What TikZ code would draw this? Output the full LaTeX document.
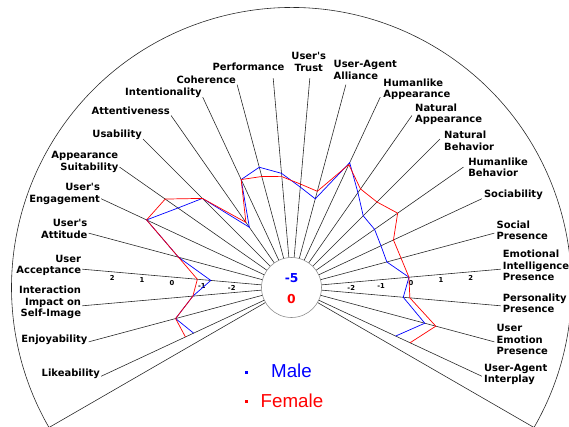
\documentclass[tikz,border=0pt]{standalone}
\usepackage{fontspec}
\newfontfamily\lblfont{DejaVu Sans}
\newfontfamily\keyfont{Liberation Sans}
\usetikzlibrary{calc}

\begin{document}
\begin{tikzpicture}[x=0.03cm,y=0.03cm,
  spoke/.style={line width=0.5pt,draw=black!85},
  lbl/.style={font=\lblfont\bfseries\fontsize{8.5}{9.8}\selectfont,inner sep=0pt},
  scalenum/.style={font=\lblfont\bfseries\fontsize{5.8}{6}\selectfont,inner sep=0pt},
  series/.style={line width=0.6pt,line join=miter}]
\colorlet{male}{blue} \colorlet{female}{red}
\useasboundingbox (-291.5,-139.5) rectangle (277.5,287.5);
\node [circle,draw=black!45,line width=0.5pt,minimum size=1.8cm,inner sep=0pt] (hub) at (0,0) {};
\node [font=\lblfont\bfseries\fontsize{10.5}{12}\selectfont,text=male] (hubmale) at (0.2,9.2) {-5};
\node [font=\lblfont\bfseries\fontsize{10.5}{12}\selectfont,text=female] (hubfemale) at (0,-11.5) {0};
\coordinate (bl) at (210:280);
\coordinate (br) at (-30:280);
\draw [spoke] (hub) -- (bl);
\draw [spoke] (hub) -- (br);
\draw [spoke] (br) arc [start angle=-30,end angle=210,radius=280];
% axes and their labels
\foreach \ang/\anc/\al/\dx/\dy/\txt [count=\i from 0] in {
  205/east/right/-1/2/Likeability,
  195/east/right/-1/2.5/Enjoyability,
  185/east/right/-1/3.3/{Interaction\\Impact on\\Self-Image},
  175/east/right/-1/3.7/{User\\Acceptance},
  165/east/right/-1/4/{User\textquotesingle s\\Attitude},
  155/east/right/-1/4.7/{User\textquotesingle s\\Engagement},
  145/east/right/-1/5/{Appearance\\Suitability},
  135/east/right/-1/4.5/Usability,
  125/east/right/-1/5/Attentiveness,
  115/east/right/-1/4.7/Intentionality,
  105/east/right/-1/5/Coherence,
  95/south/center/-24.7/7/Performance,
  85/south/center/-1/6.8/{User\textquotesingle s\\Trust},
  75/south west/left/-12.4/5/{User-Agent\\Alliance},
  65/west/left/3/8/{Humanlike\\Appearance},
  55/west/left/3/1/{Natural\\Appearance},
  45/west/left/4/-2/{Natural\\Behavior},
  35/west/left/4.5/0/{Humanlike\\Behavior},
  25/west/left/2/4/Sociability,
  15/west/left/2/3/{Social\\Presence},
  5/west/left/2/3.7/{Emotional\\Intelligence\\Presence},
  -5/west/left/2/2.3/{Personality\\Presence},
  -15/west/left/2/2.4/{User\\Emotion\\Presence},
  -25/west/left/2/1.7/{User-Agent\\Interplay}} {
  \coordinate (s\i) at (\ang:210);
  \draw [spoke] (hub) -- (s\i);
  \node [lbl,anchor=\anc,align=\al,shift={(\dx,\dy)}] (lab\i) at (s\i) {\txt};
}
% scale numbers
\foreach \v in {-2,...,2} {
  \node [scalenum,shift={(0,-6)}] (lt\v) at (175:{120+30*\v}) {\v};
  \node [scalenum,shift={(0,-6)}] (rt\v) at (5:{120+30*\v}) {\v};
}
% data
\foreach \v [count=\i from 0] in {-0.4,0,-0.7,-1.3,-0.1,1.33,0.62,0.2,-1.55,-0.03,0.15,-0.18,
  -0.64,-0.94,0.59,-0.14,-0.62,-0.62,-0.71,-0.71,-0.07,-0.26,0.6,-0.17}
  \coordinate (m\i) at ({205-10*\i}:{120+30*\v});
\foreach \v [count=\i from 0] in {-0.1,0,-0.7,-0.85,-0.1,1.33,1.14,0.2,-1.35,-0.03,-0.17,-0.29,
  -0.54,-0.68,0.52,0.01,0.03,0.32,-0.25,-0.22,-0.07,-0.04,0.98,0.36}
  \coordinate (f\i) at ({205-10*\i}:{120+30*\v});
\draw [series,male] (m0) \foreach \i in {1,...,23} { -- (m\i) };
\draw [series,female] (f0) \foreach \i in {1,...,23} { -- (f\i) };
% legend
\node [fill=male,minimum size=0.09cm,inner sep=0pt] (malekey) at (-45.2,-84.5) {};
\node [fill=female,minimum size=0.09cm,inner sep=0pt] (femalekey) at (-45.2,-113.8) {};
\node [font=\keyfont\fontsize{16}{18}\selectfont,text=male] (maletxt) at (0,-83.5) {Male};
\node [font=\keyfont\fontsize{16}{18}\selectfont,text=female] (femaletxt) at (0.5,-112.8) {Female};
\end{tikzpicture}
\end{document}
